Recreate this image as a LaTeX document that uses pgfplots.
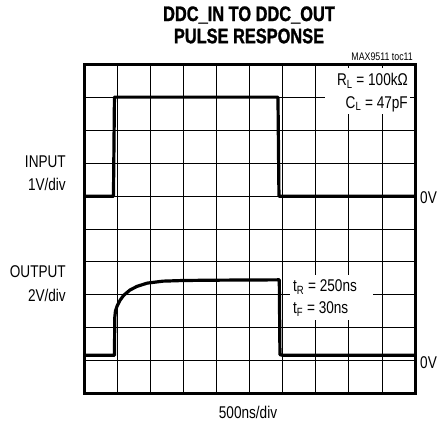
\documentclass[border=0pt]{standalone}
\usepackage{fontspec}
\setmainfont{Liberation Sans}[FakeStretch=0.8]
\newfontfamily\titlefont{Liberation Sans Bold}[FakeStretch=0.78, FakeBold=1.2]
\usepackage{pgfplots}
\pgfplotsset{compat=1.18}
\begin{document}
\begin{tikzpicture}[x=1pt,y=1pt]
\path[use as bounding box] (-84,-35) rectangle (354,393);
\begin{axis}[
  at={(0,0)}, anchor=south west,
  width=331pt, height=328pt, scale only axis,
  xmin=0, xmax=10, ymin=0, ymax=10,
  xtick={0,...,10}, ytick={0,...,10},
  xticklabels={}, yticklabels={},
  major tick length=0pt,
  grid=major,
  major grid style={black, line width=0.8pt},
  axis line style={black, line width=3pt},
]
\addplot[black, line width=3.2pt, line join=round] coordinates {
(0,6.0) (0.89,6.0) (0.92,9.02) (5.86,9.02) (5.89,6.0) (10,6.0)};
\addplot[black, line width=3.2pt, line join=round] coordinates {
(0,1.15) (0.92,1.15) (0.93,2.3) (0.95,2.5) (1.0,2.65) (1.09,2.83) (1.2,2.98)
(1.39,3.14) (1.6,3.25) (1.91,3.35) (2.39,3.41) (3,3.43) (4,3.44)
(5.9,3.45) (5.92,1.17) (6.0,1.15) (10,1.15)};
\end{axis}
% white label backgrounds
\fill[white] (241,279) rectangle (326,325);
\fill[white] (206,73) rectangle (289,118);
\fontsize{17}{20}\selectfont
\node[anchor=east, inner sep=0pt] at (324,312) {R\textsubscript{L} = 100kΩ};
\node[anchor=east, inner sep=0pt] at (324,289) {C\textsubscript{L} = 47pF};
\node[anchor=west, inner sep=0pt] at (209,106) {t\textsubscript{R} = 250ns};
\node[anchor=west, inner sep=0pt] at (209,84) {t\textsubscript{F} = 30ns};
\node[anchor=east, inner sep=0pt] at (-18,231) {INPUT};
\node[anchor=east, inner sep=0pt] at (-18,209) {1V/div};
\node[anchor=east, inner sep=0pt] at (-18,121) {OUTPUT};
\node[anchor=east, inner sep=0pt] at (-18,98) {2V/div};
\node[anchor=west, inner sep=0pt] at (336,195) {0V};
\node[anchor=west, inner sep=0pt] at (336,30) {0V};
\node[inner sep=0pt] at (164,-19) {500ns/div};
\node[anchor=east, inner sep=0pt, font=\fontsize{11}{13}\selectfont] at (329,336) {MAX9511 toc11};
\node[inner sep=0pt, font=\titlefont\fontsize{21}{24}\selectfont] at (165,378) {DDC\_IN TO DDC\_OUT};
\node[inner sep=0pt, font=\titlefont\fontsize{21}{24}\selectfont] at (165,357) {PULSE RESPONSE};
\end{tikzpicture}
\end{document}
